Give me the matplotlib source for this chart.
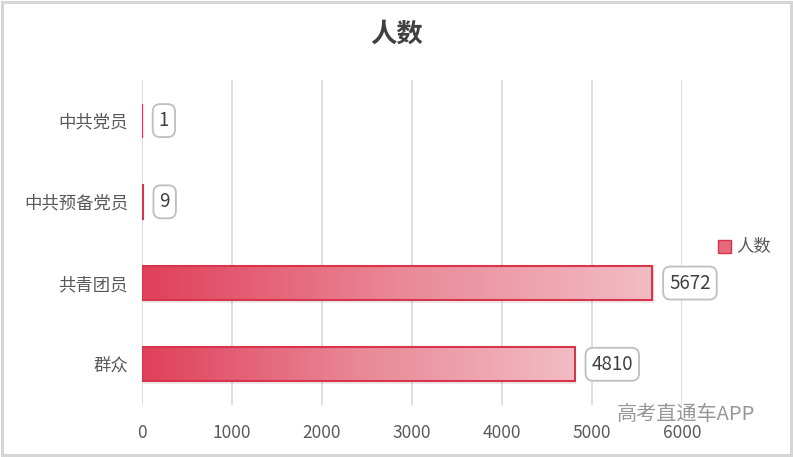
import numpy as np
import matplotlib.pyplot as plt
from matplotlib.colors import LinearSegmentedColormap
from matplotlib.patches import Rectangle

plt.rcParams['font.family'] = ['Noto Sans CJK SC', 'DejaVu Sans']

# 数据
categories = ['中共党员', '中共预备党员', '共青团员', '群众']
values = [1, 9, 5672, 4810]
xticks = [0, 1000, 2000, 3000, 4000, 5000, 6000]

fig = plt.figure(figsize=(7.93, 4.57), dpi=100)
ax = fig.add_axes([0.179, 0.114, 0.681, 0.711])

# 渐变色
cmap = LinearSegmentedColormap.from_list('grad', ['#e0405a', '#e98896', '#f2bcc4'])
grad = np.linspace(0, 1, 256).reshape(1, -1)

h = 0.42
y = np.arange(len(categories))
bars = ax.barh(y, values, height=h, color='none', edgecolor='#d8344c', linewidth=1.5, zorder=3)
for bar, v in zip(bars, values):
    x0, y0 = bar.get_x(), bar.get_y()
    w, hh = bar.get_width(), bar.get_height()
    im = ax.imshow(grad, cmap=cmap, aspect='auto', extent=[x0, x0 + w, y0 + hh, y0], zorder=2)
    im.set_clip_path(bar)
    # 阴影
    ax.add_patch(Rectangle((x0 + 15, y0 + 0.03), w, hh, facecolor='#000000', alpha=0.08,
                           edgecolor='none', zorder=1))

# 数据标签
for yi, v in zip(y, values):
    ax.annotate(str(v), (v, yi), xytext=(12, 0), textcoords='offset points',
                ha='left', va='center', fontsize=13.5, color='#404040', zorder=5,
                bbox=dict(boxstyle='round,pad=0.32,rounding_size=0.4', fc='white',
                          ec='#bfbfbf', lw=1.3))

ax.set_xlim(0, 6000)
ax.set_ylim(3.5, -0.5)
ax.set_xticks(xticks)
ax.set_xticklabels([str(t) for t in xticks])
ax.set_yticks(y)
ax.set_yticklabels(categories)
ax.tick_params(axis='both', length=0, labelsize=12.5, colors='#595959', pad=10)
ax.tick_params(axis='x', pad=14)
for lbl in ax.get_yticklabels():
    lbl.set_fontsize(12.5)
ax.grid(axis='x', color='#d9d9d9', linewidth=1.2, zorder=0)
ax.set_axisbelow(True)
for s in ax.spines.values():
    s.set_visible(False)

fig.text(0.5, 0.925, '人数', ha='center', va='center', fontsize=19, fontweight='bold', color='#404040')

# 图例
fig.patches.append(Rectangle((0.906, 0.446), 0.016, 0.028, transform=fig.transFigure,
                             facecolor='#e56a7c', edgecolor='#d8344c', lw=1))
fig.text(0.928, 0.46, '人数', ha='left', va='center', fontsize=12.5, color='#595959')

# 水印
fig.text(0.778, 0.092, '高考直通车APP', ha='left', va='center', fontsize=14.5, color='#8c8c8c', alpha=0.9)

# 外框
fig.patches.append(Rectangle((0.002, 0.004), 0.995, 0.992, transform=fig.transFigure,
                             facecolor='none', edgecolor='#d6d6d6', lw=2.2))

fig.savefig('out.png', dpi=100)
